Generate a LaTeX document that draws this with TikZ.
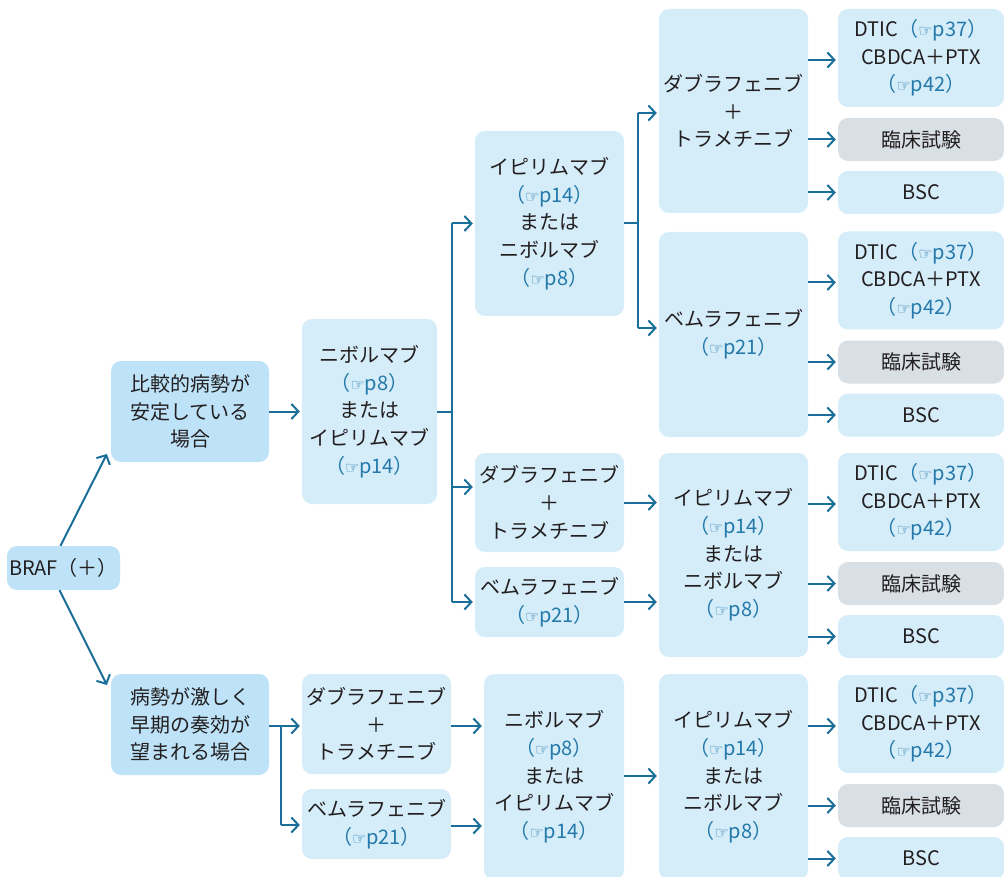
\documentclass[tikz,border=0pt]{standalone}
\usepackage{fontspec}
\setmainfont{Noto Sans CJK JP}
\newfontfamily\symfont{DejaVu Sans}
\usetikzlibrary{arrows.meta,calc}
\definecolor{arrc}{HTML}{1A6F9A}
\definecolor{lnk}{HTML}{2479AA}
\definecolor{txt}{HTML}{231F20}
\definecolor{fdark}{HTML}{BEE3F8}
\definecolor{flight}{HTML}{D5ECF9}
\definecolor{fgray}{HTML}{D8DFE5}
\newcommand{\pg}[1]{{\color{lnk}（{\symfont\fontsize{16}{16}\selectfont ☞}#1）}}
\begin{document}
\begin{tikzpicture}[x=1pt,y=-1pt,
  bx/.style 2 args={rectangle, rounded corners=10pt, minimum width=#1pt, minimum height=#2pt,
    inner sep=0pt, align=center, text=txt, font=\fontsize{20}{27.7}\selectfont},
  ln/.style={draw=arrc, line width=2pt},
  arr/.style={ln, shorten >=2pt, -{Straight Barb[length=7pt,width=15pt,line width=2pt]}}]
\useasboundingbox (0,0) rectangle (1004,877);
\clip (0,0) rectangle (1004,877);
% column A
\node[bx={113}{44}, fill=fdark] (BRAF) at (63.5,568) {BRAF（＋）};
\node[bx={158}{101}, fill=fdark] (A1) at (190,411.5) {比較的病勢が\\安定している\\場合};
\node[bx={158}{101}, fill=fdark] (A2) at (190,724.5) {病勢が激しく\\早期の奏効が\\望まれる場合};
% column B
\node[bx={135}{185}, fill=flight] (B1) at (369.5,411.5) {ニボルマブ\\\pg{p8}\\または\\イピリムマブ\\\pg{p14}};
\node[bx={149}{100}, fill=flight] (B2) at (376.5,724) {ダブラフェニブ\\＋\\トラメチニブ};
\node[bx={149}{70}, fill=flight] (B3) at (376.5,824) {ベムラフェニブ\\\pg{p21}};
% column C
\node[bx={149}{185}, fill=flight] (C1) at (549.5,223.5) {イピリムマブ\\\pg{p14}\\または\\ニボルマブ\\\pg{p8}};
\node[bx={149}{99}, fill=flight] (C2) at (549.5,502.5) {ダブラフェニブ\\＋\\トラメチニブ};
\node[bx={149}{70}, fill=flight] (C3) at (549.5,602) {ベムラフェニブ\\\pg{p21}};
\node[bx={140}{206}, fill=flight] (C4) at (554,777) {ニボルマブ\\\pg{p8}\\または\\イピリムマブ\\\pg{p14}};
% column D
\node[bx={149}{204}, fill=flight] (D1) at (733.5,111) {ダブラフェニブ\\＋\\トラメチニブ};
\node[bx={149}{205}, fill=flight] (D2) at (733.5,334.5) {ベムラフェニブ\\\pg{p21}};
\node[bx={149}{204}, fill=flight] (D3) at (733.5,555) {イピリムマブ\\\pg{p14}\\または\\ニボルマブ\\\pg{p8}};
\node[bx={149}{206}, fill=flight] (D4) at (733.5,777) {イピリムマブ\\\pg{p14}\\または\\ニボルマブ\\\pg{p8}};
% column E
\foreach \g/\off in {1/0,2/222.5,3/444,4/666} {
  \node[bx={166}{98}, fill=flight] (Ea\g) at (921,58+\off) {DTIC\pg{p37}\\CBDCA＋PTX\\\pg{p42}};
  \node[bx={166}{43}, fill=fgray] (Eb\g) at (921,139.5+\off) {臨床試験};
  \node[bx={166}{43}, fill=flight] (Ec\g) at (921,192.5+\off) {BSC};
  \draw[arr] ([yshift=-2pt]D\g.east |- Ea\g.west) -- ([yshift=-2pt]Ea\g.west);
  \draw[arr] (D\g.east |- Eb\g.west) -- (Eb\g.west);
  \draw[arr] (D\g.east |- Ec\g.west) -- (Ec\g.west);
}
% connectors A
\draw[arr] ([xshift=-3pt]BRAF.north) -- ([xshift=-3pt,yshift=10pt]A1.south west);
\draw[arr] ([xshift=-4pt]BRAF.south) -- ([xshift=-3pt,yshift=-13pt]A2.north west);
\draw[arr] (A1.east) -- (B1.west);
% branch from B1
\coordinate (j1) at (452,411.5);
\draw[ln] (B1.east) -- (j1);
\draw[ln] (j1 |- C1.west) -- (j1 |- C3.west);
\draw[arr] (j1 |- C1.west) -- (C1.west);
\draw[arr] ($(j1 |- C2.west)+(0,-15.5)$) -- ($(C2.west)+(0,-15.5)$);
\draw[arr] (j1 |- C3.west) -- (C3.west);
% branch from C1
\coordinate (j2) at (638,223.5);
\draw[ln] (C1.east) -- (j2);
\draw[ln] ($(j2 |- D1.west)+(0,2)$) -- ($(j2 |- D2.west)+(0,-6.5)$);
\draw[arr] ($(j2 |- D1.west)+(0,2)$) -- ($(D1.west)+(0,2)$);
\draw[arr] ($(j2 |- D2.west)+(0,-6.5)$) -- ($(D2.west)+(0,-6.5)$);
% C2, C3 to D3
\draw[arr] (C2.east) -- (C2.east -| D3.west);
\draw[arr] (C3.east) -- (C3.east -| D3.west);
% branch from A2
\coordinate (j3) at (281,726);
\draw[arr] ($(A2.east)+(0,1.5)$) -- ($(B2.west)+(0,2)$);
\draw[ln] (j3) -- ($(j3 |- B3.west)+(0,1)$);
\draw[arr] ($(j3 |- B3.west)+(0,1)$) -- ($(B3.west)+(0,1)$);
% B2, B3 to C4
\draw[arr] ($(B2.east)+(0,2)$) -- ($(B2.east -| C4.west)+(0,2)$);
\draw[arr] ($(B3.east)+(0,2)$) -- ($(B3.east -| C4.west)+(0,2)$);
\draw[arr] ($(C4.east)+(0,-1)$) -- ($(C4.east -| D4.west)+(0,-1)$);
\end{tikzpicture}
\end{document}
